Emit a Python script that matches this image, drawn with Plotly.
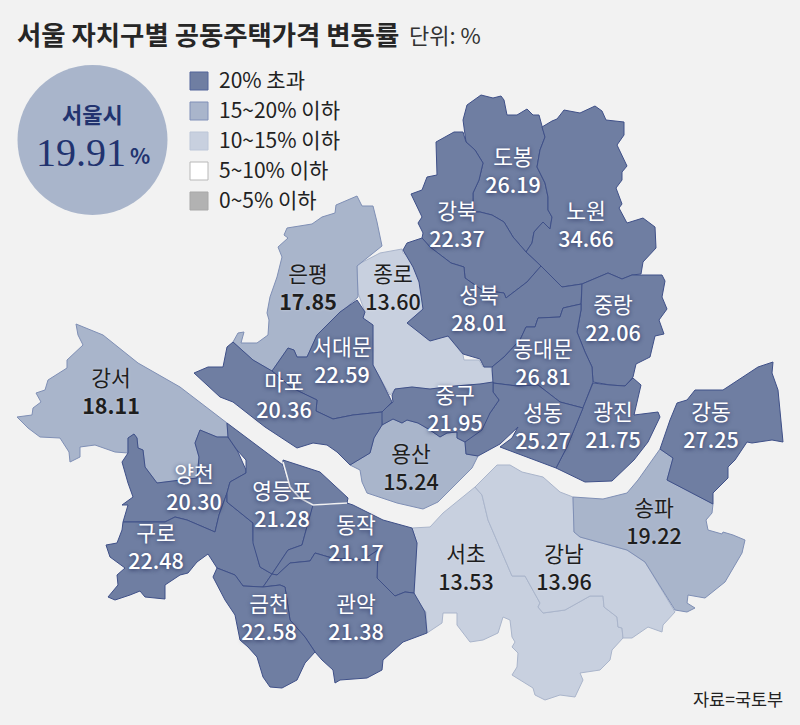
import plotly.graph_objects as go

FONT = "Noto Sans CJK KR"
BG = "#f2f2f2"

# 자치구별 변동률
DISTRICTS = ["도봉", "노원", "강북", "성북", "중랑", "동대문", "광진", "성동", "중구", "종로",
             "서대문", "은평", "마포", "용산", "강서", "양천", "구로", "영등포", "동작", "관악",
             "금천", "서초", "강남", "송파", "강동"]
VALUES = [26.19, 34.66, 22.37, 28.01, 22.06, 26.81, 21.75, 25.27, 21.95, 13.60,
          22.59, 17.85, 20.36, 15.24, 18.11, 20.30, 22.48, 21.28, 21.17, 21.38,
          22.58, 13.53, 13.96, 19.22, 27.25]
SEOUL_TOTAL = 19.91

LEGEND_LABELS = ["20% 초과", "15~20% 이하", "10~15% 이하", "5~10% 이하", "0~5% 이하"]
LEGEND_FILLS = ["#6f7ea2", "#a9b5cb", "#c8d0df", "#ffffff", "#b2b2b2"]
LEGEND_LINES = ["#53659a", "#8090b8", "#bcc6d8", "#b8b8b8", "#a8a8a8"]

# 구 경계선 (그림 좌표)
OUTLINES = {
    "도봉": [(481,95),(493,98),(501,96),(504,100),(507,115),(517,115),(527,109),(533,115),(539,115),(542,127),(545,137),(540,150),(537,167),(545,183),(548,197),(548,210),(552,217),(550,229),(543,222),(534,232),(532,243),(526,252),(513,237),(504,222),(492,215),(480,212),(473,212),(473,193),(479,180),(483,163),(475,150),(466,142),(463,120),(467,105)],
    "노원": [(542,127),(552,121),(557,119),(564,110),(580,113),(595,106),(602,111),(606,120),(624,122),(624,135),(617,145),(622,155),(627,166),(622,172),(622,180),(616,188),(622,204),(619,208),(627,223),(643,218),(655,227),(656,248),(643,262),(641,274),(632,275),(622,279),(608,273),(582,284),(562,287),(541,266),(526,252),(532,243),(534,232),(543,222),(550,229),(552,217),(548,210),(548,197),(545,183),(537,167),(540,150),(545,137)],
    "강북": [(454,132),(463,132),(466,142),(475,150),(483,163),(479,180),(473,193),(473,212),(480,212),(492,215),(504,222),(513,237),(526,252),(541,266),(527,282),(506,298),(504,293),(482,290),(465,278),(464,267),(451,263),(430,247),(422,238),(423,233),(418,223),(422,217),(411,194),(422,190),(427,177),(437,175),(436,142)],
    "성북": [(422,238),(430,247),(451,263),(464,267),(465,278),(482,290),(504,293),(506,298),(527,282),(541,266),(562,287),(582,284),(581,304),(563,308),(560,317),(538,318),(535,327),(526,327),(520,340),(504,357),(492,367),(484,367),(480,359),(463,354),(448,336),(430,341),(407,323),(423,309),(419,282),(413,267),(403,250),(407,243)],
    "중랑": [(582,284),(608,273),(622,279),(632,275),(662,275),(665,281),(662,297),(667,309),(659,320),(664,334),(655,336),(650,357),(636,364),(633,377),(625,386),(610,385),(593,382),(592,367),(585,352),(577,332),(581,310)],
    "동대문": [(581,304),(581,310),(577,332),(585,352),(592,367),(593,382),(583,408),(560,402),(538,385),(517,386),(493,383),(492,367),(504,357),(520,340),(526,327),(535,327),(538,318),(560,317),(563,308)],
    "광진": [(593,383),(610,385),(625,386),(633,378),(641,385),(638,397),(634,415),(650,413),(658,412),(660,417),(648,442),(634,460),(612,481),(585,482),(556,468),(567,447),(583,408)],
    "성동": [(493,383),(517,386),(538,385),(560,402),(583,408),(567,447),(556,468),(500,447),(512,438),(518,427),(500,444),(478,456),(466,454),(465,442),(490,413),(499,400),(493,392)],
    "중구": [(393,402),(392,395),(395,389),(412,387),(430,389),(455,386),(480,384),(493,382),(493,392),(499,400),(490,413),(482,430),(465,442),(457,438),(457,432),(447,433),(440,437),(430,430),(418,423),(407,420),(402,423),(393,419),(382,425),(381,412)],
    "종로": [(357,265),(380,253),(402,249),(403,253),(413,258),(418,277),(425,287),(421,295),(425,308),(408,322),(428,340),(448,336),(463,355),(464,360),(479,360),(483,367),(491,367),(493,382),(480,384),(455,386),(430,389),(412,387),(395,389),(390,395),(380,378),(373,365),(373,325),(363,318),(365,312),(358,293)],
    "서대문": [(357,300),(365,312),(363,318),(373,325),(373,365),(380,378),(392,402),(382,412),(353,415),(333,419),(316,411),(317,400),(292,388),(272,371),(288,348),(294,350),(297,357),(307,357),(317,335),(340,312)],
    "은평": [(357,196),(362,206),(373,206),(377,222),(382,246),(357,266),(358,297),(338,315),(317,335),(307,357),(297,357),(294,350),(288,348),(272,371),(253,360),(233,342),(238,333),(244,332),(241,343),(257,343),(268,335),(269,320),(267,313),(270,297),(277,277),(282,257),(278,247),(288,238),(284,235),(287,228),(312,224),(322,217),(335,213),(336,205)],
    "마포": [(233,342),(253,360),(272,371),(292,388),(317,400),(316,411),(333,419),(353,415),(382,412),(382,425),(374,438),(370,453),(350,465),(337,452),(327,445),(313,443),(297,448),(265,427),(233,402),(220,397),(194,373),(208,367),(223,367),(227,347)],
    "용산": [(382,425),(393,419),(402,423),(407,420),(418,423),(430,430),(440,437),(447,433),(457,432),(457,438),(465,442),(466,454),(478,456),(472,468),(453,487),(438,502),(423,509),(397,503),(367,493),(362,482),(360,470),(350,465),(370,453),(374,438)],
    "강서": [(76,324),(103,335),(138,363),(180,387),(227,423),(228,437),(217,437),(200,430),(195,443),(199,457),(197,478),(157,483),(145,467),(143,450),(138,448),(137,438),(134,434),(128,438),(128,453),(115,452),(95,445),(80,447),(80,457),(70,462),(69,452),(60,438),(40,437),(28,428),(17,417),(32,415),(33,408),(41,402),(36,393),(45,390),(48,380),(67,368),(67,360),(83,345),(78,335)],
    "양천": [(128,438),(134,434),(137,438),(138,448),(143,450),(145,467),(157,483),(197,478),(199,457),(195,443),(200,430),(217,437),(228,437),(238,452),(246,470),(246,473),(230,482),(227,493),(219,515),(215,532),(187,520),(175,517),(165,522),(137,522),(123,522),(128,505),(122,505),(133,497),(128,483),(122,462),(128,453)],
    "구로": [(123,522),(137,522),(165,522),(175,517),(187,520),(215,532),(219,515),(227,493),(227,502),(253,523),(253,540),(260,567),(272,574),(263,587),(243,586),(235,575),(217,568),(208,554),(197,562),(188,573),(180,575),(165,585),(165,599),(145,597),(140,591),(130,595),(115,600),(108,597),(118,585),(117,575),(125,568),(110,557),(106,545),(117,543),(122,530)],
    "영등포": [(227,423),(273,457),(283,465),(290,487),(300,498),(313,505),(312,510),(308,523),(302,545),(288,550),(272,574),(260,567),(253,543),(253,523),(227,502),(227,493),(230,482),(246,473),(246,460),(237,450),(228,437)],
    "여의도": [(283,460),(320,472),(348,498),(347,503),(313,505),(300,498),(290,487),(283,465)],
    "동작": [(313,505),(347,503),(353,505),(383,520),(412,528),(417,543),(414,593),(405,592),(395,596),(377,578),(378,550),(363,560),(332,558),(315,553),(310,561),(290,563),(277,575),(272,574),(288,550),(302,545),(308,523),(312,510)],
    "관악": [(263,587),(272,574),(277,575),(290,563),(310,561),(315,553),(332,558),(363,560),(378,550),(377,578),(395,596),(405,592),(414,593),(425,612),(427,633),(403,642),(383,660),(382,670),(367,678),(340,680),(335,683),(333,670),(322,660),(315,652),(305,637),(290,620),(288,607),(285,587),(280,585)],
    "금천": [(213,577),(217,568),(235,575),(243,586),(263,587),(280,585),(285,587),(288,607),(290,620),(305,637),(315,652),(305,663),(297,680),(282,688),(270,687),(263,677),(257,657),(248,647),(240,640),(238,630),(235,615),(225,600)],
    "서초": [(475,487),(443,513),(430,527),(412,528),(417,543),(414,598),(426,612),(427,633),(442,623),(443,613),(457,613),(457,625),(470,642),(483,640),(498,633),(503,617),(510,620),(512,637),(515,642),(512,647),(518,653),(517,667),(512,675),(533,688),(535,695),(545,700),(560,695),(575,697),(583,680),(580,673),(600,670),(610,660),(612,650),(623,638),(622,628),(618,627),(617,617),(604,607),(603,596),(590,596),(565,610),(543,613),(538,607),(540,603),(525,576),(512,576),(488,520),(482,495)],
    "강남": [(475,487),(497,465),(510,465),(522,472),(543,477),(560,492),(573,497),(574,532),(580,537),(627,550),(645,562),(675,612),(663,625),(662,632),(648,627),(632,638),(623,638),(622,628),(618,627),(617,617),(604,607),(603,596),(590,596),(565,610),(543,613),(538,607),(540,603),(525,576),(512,576),(488,520),(482,495)],
    "송파": [(573,497),(603,499),(627,493),(638,480),(660,449),(673,458),(667,480),(713,504),(712,513),(706,520),(708,530),(722,534),(723,532),(733,535),(745,540),(742,553),(725,582),(705,598),(688,595),(687,603),(695,608),(687,612),(675,610),(645,562),(627,550),(580,537),(574,532)],
    "강동": [(660,449),(670,420),(677,403),(687,400),(695,390),(723,390),(758,367),(773,362),(772,373),(778,390),(783,442),(772,440),(752,443),(747,442),(735,460),(728,467),(728,478),(713,493),(713,504),(667,480),(673,458)],
}
SAETGANG = [(283,462),(290,487),(300,498),(313,505),(347,503)]

# 라벨 중심 (이름+수치 두 줄)
LABEL_XY = {
    "도봉": (513,174), "노원": (586,228), "강북": (457,228), "성북": (479,312),
    "중랑": (613,322), "동대문": (543,366), "광진": (613,429), "성동": (543,430),
    "중구": (455,412), "종로": (393,291), "서대문": (342,364), "은평": (308,291),
    "마포": (284,399), "용산": (411,471), "강서": (111,395), "양천": (194,491),
    "구로": (156,550), "영등포": (282,508), "동작": (356,542), "관악": (356,621),
    "금천": (269,621), "서초": (466,571), "강남": (564,571), "송파": (654,525),
    "강동": (711,429),
}
BOLD_VALUES = ["은평", "강서"]


def band(v):
    if v > 20: return 0
    if v > 15: return 1
    if v > 10: return 2
    if v > 5: return 3
    return 4


fig = go.Figure()


def add_area(pts, v):
    b = band(v)
    xs = [p[0] for p in pts] + [pts[0][0]]
    ys = [p[1] for p in pts] + [pts[0][1]]
    fig.add_scatter(x=xs, y=ys, mode="lines", fill="toself", fillcolor=LEGEND_FILLS[b],
                    line=dict(color={0: "#3f5088", 1: "#7f8fb5", 2: "#aab5cb"}.get(b, "#999"), width=1),
                    hoverinfo="skip")


# 밝은 구부터 깔아야 진한 경계선이 위로 온다
value_of = dict(zip(DISTRICTS, VALUES))
value_of["여의도"] = value_of["영등포"]
for name in sorted(OUTLINES, key=lambda n: -band(value_of[n])):
    add_area(OUTLINES[name], value_of[name])

fig.add_scatter(x=[p[0] for p in SAETGANG], y=[p[1] for p in SAETGANG], mode="lines",
                line=dict(color="#f2f2f2", width=1.6), hoverinfo="skip")


def label_text(i):
    weight = 700 if DISTRICTS[i] in BOLD_VALUES else 500
    return f"{DISTRICTS[i]}<br><span style='font-weight:{weight}'>{VALUES[i]:.2f}</span>"


def add_labels(idx, color, shadow):
    fig.add_scatter(x=[LABEL_XY[DISTRICTS[i]][0] for i in idx], y=[LABEL_XY[DISTRICTS[i]][1] for i in idx],
                    text=[label_text(i) for i in idx], mode="text", hoverinfo="skip",
                    textfont=dict(family=FONT, size=21.5, color=color, shadow=shadow))


dark = [i for i, v in enumerate(VALUES) if band(v) == 0]
other = [i for i, v in enumerate(VALUES) if band(v) != 0]
add_labels(dark, "#ffffff", "0px 1px 4px rgba(25,35,80,0.75)")
add_labels(other, "#1e1e1e", "0px 0px 3px rgba(255,255,255,0.35)")

# 범례
legend_y = [81 + 30 * i for i in range(len(LEGEND_LABELS))]
fig.add_scatter(x=[199] * 5, y=legend_y, mode="markers", hoverinfo="skip",
                marker=dict(symbol="square", size=18, color=LEGEND_FILLS,
                            line=dict(color=LEGEND_LINES, width=1)))
fig.add_scatter(x=[219] * 5, y=[y + 2 for y in legend_y], text=LEGEND_LABELS, mode="text",
                textposition="middle right", hoverinfo="skip",
                textfont=dict(family=FONT, size=21, color="#222222"))

fig.add_shape(type="circle", x0=17.5, x1=167.5, y0=65, y1=215, fillcolor="#a9b5cb", line_width=0, layer="below")


def note(x, y, text, size, color="#222222", anchor="left", family=FONT, weight=None):
    fig.add_annotation(x=x, y=y, text=text, showarrow=False, xanchor=anchor, yanchor="middle",
                       font=dict(family=family, size=size, color=color, weight=weight))


note(15, 33, "서울 자치구별 공동주택가격 변동률", 26.4, "#262626", weight=700)
note(407, 34, "단위: %", 22, "#333333")
note(92, 113, "서울시", 22, "#22336f", anchor="center", weight=700)
note(34, 152, f"{SEOUL_TOTAL:.2f}", 40, "#22336f", family="Liberation Serif")
note(128, 155, "%", 21, "#22336f", weight=700)
note(785, 698, "자료=국토부", 17.5, "#222222", anchor="right")

fig.update_xaxes(range=[0, 800], visible=False, fixedrange=True)
fig.update_yaxes(range=[725, 0], visible=False, fixedrange=True)
fig.update_layout(width=800, height=725, margin=dict(l=0, r=0, t=0, b=0), showlegend=False,
                  paper_bgcolor=BG, plot_bgcolor=BG)

fig.write_html("out.html", config={"displayModeBar": False},
               post_script="document.body.style.margin='0';document.documentElement.style.overflow='hidden';")
